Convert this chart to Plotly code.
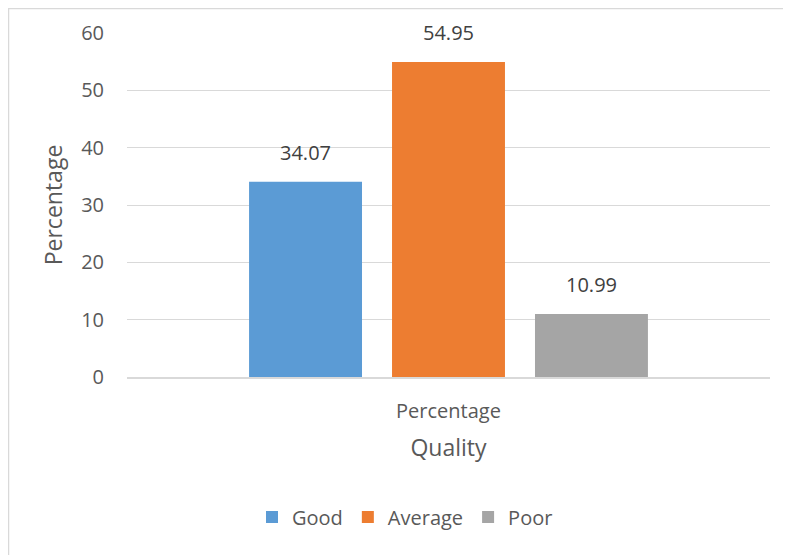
import plotly.graph_objects as go

categories = ["Percentage"]
series_names = ["Good", "Average", "Poor"]
series_values = [34.07, 54.95, 10.99]
colors = ["#5B9BD5", "#ED7D31", "#A5A5A5"]
y_ticks = [0, 10, 20, 30, 40, 50, 60]

OFF = 8  # page body margin
W, H = 791 - OFF, 555 - OFF
ml, mt = 127 - OFF, 33 - OFF
pw, ph = 643, 344
mr, mb = W - ml - pw, H - mt - ph
txt = "#595959"
font_family = "Open Sans"
bargap = 0.333

fig = go.Figure()
n = len(series_names)
slot = (1 - bargap) / n
annotations = []
for i, (name, val, col) in enumerate(zip(series_names, series_values, colors)):
    fig.add_trace(go.Bar(
        name=name, x=categories, y=[val],
        marker=dict(color=col, line=dict(width=0)),
    ))
    annotations.append(dict(
        x=(i - (n - 1) / 2) * slot, y=val, xref="x", yref="y",
        text=f"{val:.2f}", showarrow=False, yanchor="bottom", yshift=14,
        font=dict(size=20, color="#404040", family=font_family),
    ))

def px2paper_x(p):
    return (p - OFF - ml) / pw

def px2paper_y(p):
    return (mt + ph - (p - OFF)) / ph

fig.update_layout(
    width=W, height=H,
    margin=dict(l=ml, r=mr, t=mt, b=mb),
    paper_bgcolor="white", plot_bgcolor="white",
    barmode="group", bargap=bargap, bargroupgap=0.21,
    font=dict(family=font_family, color=txt, size=20),
    showlegend=True,
    legend=dict(orientation="h", x=px2paper_x(405), xanchor="center",
                y=px2paper_y(517), yanchor="middle",
                font=dict(size=20, color=txt), itemwidth=30,
                traceorder="normal"),
    xaxis=dict(range=[-0.5, 0.5], showgrid=False, showline=True,
               linecolor="#d9d9d9", linewidth=1.5, ticks="",
               tickfont=dict(size=20, color=txt), ticklabelstandoff=15,
               title=dict(text="Quality", font=dict(size=23, color=txt), standoff=17)),
    yaxis=dict(range=[0, 60], tickvals=y_ticks, showgrid=True,
               gridcolor="#d9d9d9", gridwidth=1.3, zeroline=False,
               showline=False, ticks="", ticklabelstandoff=22,
               tickfont=dict(size=20, color=txt),
               title=dict(text="Percentage", font=dict(size=23, color=txt), standoff=12)),
    annotations=annotations,
    shapes=[dict(type="rect", xref="paper", yref="paper",
                 x0=px2paper_x(OFF + 0.5), x1=px2paper_x(800),
                 y0=px2paper_y(570), y1=px2paper_y(OFF + 0.5),
                 line=dict(color="#d9d9d9", width=1.5), layer="below")],
)

fig.write_html("out.html")
